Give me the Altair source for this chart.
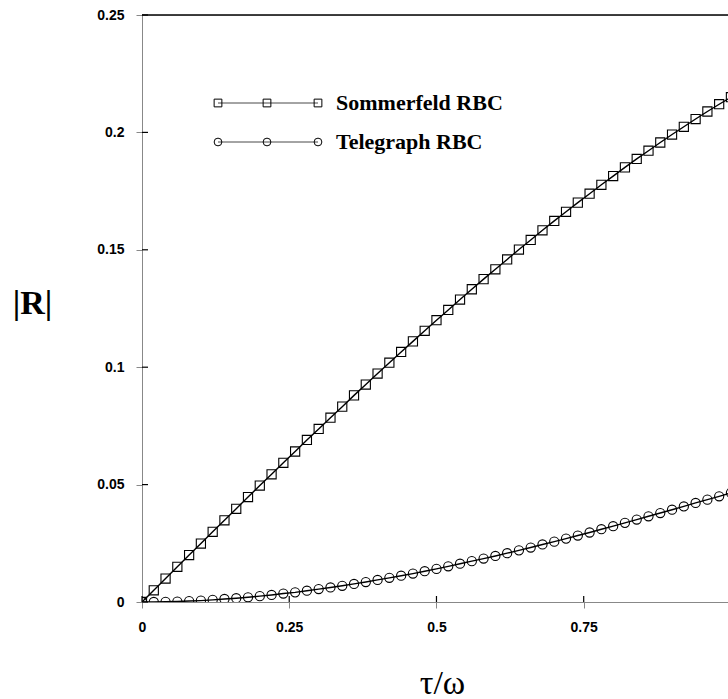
import altair as alt
import pandas as pd

# x positions (tau/omega)
tau = [round(0.02 * i, 2) for i in range(51)]

sommerfeld = [0.0000, 0.0050, 0.0100, 0.0150, 0.0200, 0.0249, 0.0299, 0.0348, 0.0397, 0.0447,
              0.0496, 0.0544, 0.0593, 0.0641, 0.0690, 0.0737, 0.0785, 0.0832, 0.0880, 0.0926,
              0.0973, 0.1019, 0.1065, 0.1110, 0.1155, 0.1200, 0.1244, 0.1288, 0.1332, 0.1375,
              0.1417, 0.1459, 0.1501, 0.1542, 0.1583, 0.1623, 0.1662, 0.1701, 0.1739, 0.1777,
              0.1814, 0.1851, 0.1887, 0.1922, 0.1957, 0.1991, 0.2024, 0.2057, 0.2089, 0.2120,
              0.2150]

telegraph = [0.0000, 0.0000, 0.0001, 0.0002, 0.0004, 0.0006, 0.0009, 0.0013, 0.0016, 0.0020,
             0.0025, 0.0030, 0.0036, 0.0041, 0.0048, 0.0055, 0.0062, 0.0069, 0.0077, 0.0085,
             0.0094, 0.0103, 0.0112, 0.0121, 0.0131, 0.0141, 0.0152, 0.0163, 0.0174, 0.0185,
             0.0196, 0.0208, 0.0220, 0.0232, 0.0245, 0.0257, 0.0270, 0.0283, 0.0296, 0.0310,
             0.0323, 0.0337, 0.0351, 0.0365, 0.0379, 0.0393, 0.0407, 0.0422, 0.0436, 0.0450,
             0.0465]

series_names = ["Sommerfeld RBC", "Telegraph RBC"]
x_ticks = [0, 0.25, 0.5, 0.75]
y_ticks = [0, 0.05, 0.1, 0.15, 0.2, 0.25]

df = pd.concat([
    pd.DataFrame({"tau": tau, "R": sommerfeld, "series": series_names[0]}),
    pd.DataFrame({"tau": tau, "R": telegraph, "series": series_names[1]}),
])

W, H = 586, 587
serif = "Liberation Serif"
sans = "Liberation Sans"
label_expr = "datum.value == 0 ? '0' : format(datum.value, '~g')"

xscale = alt.Scale(domain=[0, 0.995], nice=False, zero=False)
yscale = alt.Scale(domain=[0, 0.25], nice=False)

x_enc = alt.X("tau:Q", scale=xscale, axis=alt.Axis(
    values=x_ticks, grid=False, title="τ/ω", titleFont=serif, titleFontSize=34,
    titleFontWeight="normal",
    titleX=300, titleY=81, titleAlign="center", titleBaseline="middle",
    labelFont=sans, labelFontSize=14, labelFontWeight="bold", labelPadding=12,
    tickSize=6, labelFlush=False, labelExpr=label_expr))
y_enc = alt.Y("R:Q", scale=yscale, axis=alt.Axis(
    values=y_ticks, grid=False, title="|R|", titleFont=serif, titleFontSize=34,
    titleFontWeight="bold",
    titleAngle=0, titleX=-110, titleY=288, titleAlign="center", titleBaseline="middle",
    labelFont=sans, labelFontSize=14, labelFontWeight="bold", labelPadding=12,
    tickSize=6, labelFlush=False, labelExpr=label_expr))

lines = alt.Chart(df).mark_line(color="black", strokeWidth=1.4, clip=True).encode(
    x=x_enc, y=y_enc, detail="series:N")

points = alt.Chart(df).mark_point(filled=False, color="black", size=84, strokeWidth=1.1,
                                  opacity=1, clip=True).encode(
    x="tau:Q", y="R:Q",
    shape=alt.Shape("series:N", scale=alt.Scale(domain=series_names, range=["square", "circle"]),
                    legend=None))

# inward halves of the crossing ticks
ytick_df = pd.DataFrame({"R": y_ticks})
xtick_df = pd.DataFrame({"tau": x_ticks})
yt_in = alt.Chart(ytick_df).mark_rule(color="black", strokeWidth=1.2).encode(
    y="R:Q", x=alt.value(0), x2=alt.value(6))
xt_in = alt.Chart(xtick_df).mark_rule(color="black", strokeWidth=1.2).encode(
    x="tau:Q", y=alt.value(H), y2=alt.value(H - 6))

one = pd.DataFrame({"k": [0]})
top_border = alt.Chart(one).mark_rule(color="black", strokeWidth=1.5).encode(
    x=alt.value(0), x2=alt.value(W), y=alt.value(0))

# custom legend
legend_layers = []
for name, shape, yy in [(series_names[0], "square", 88), (series_names[1], "circle", 127)]:
    legend_layers.append(alt.Chart(one).mark_rule(color="#333333", strokeWidth=0.9).encode(
        x=alt.value(76), x2=alt.value(176), y=alt.value(yy)))
    for xx in [76, 125, 176]:
        legend_layers.append(alt.Chart(one).mark_point(
            shape=shape, filled=False, color="black", size=60, strokeWidth=1, opacity=1).encode(
            x=alt.value(xx), y=alt.value(yy)))
    legend_layers.append(alt.Chart(one).mark_text(
        font=serif, fontSize=22, fontWeight="bold", align="left", baseline="middle",
        color="black").encode(x=alt.value(194), y=alt.value(yy), text=alt.value(name)))

chart = alt.layer(lines, points, yt_in, xt_in, top_border, *legend_layers).properties(
    width=W, height=H,
    padding={"left": 142, "top": 15, "right": 0, "bottom": 97},
    autosize=alt.AutoSizeParams(type="none"),
).configure_view(stroke=None).configure_axis(
    grid=False, domainColor="black", domainWidth=1.5, tickColor="black", tickWidth=1.2,
    labelColor="black", titleColor="black",
).configure(background="white")

chart.save("out.html", embed_options={"renderer": "svg", "actions": False})
